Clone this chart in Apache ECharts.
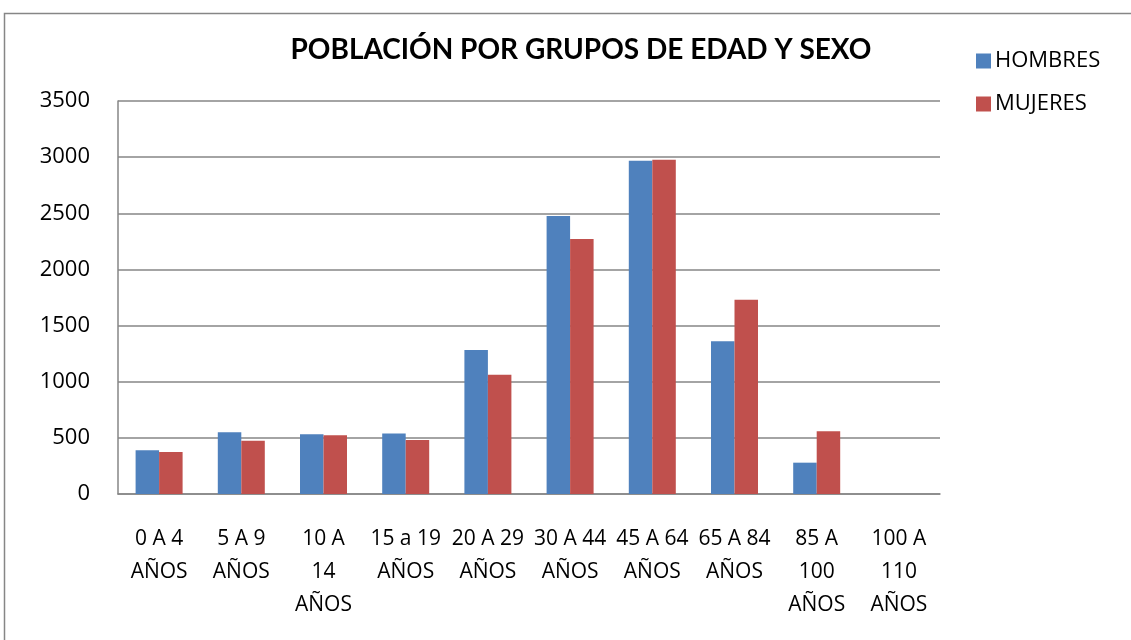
<!DOCTYPE html>
<html lang="es">
<head>
    <meta charset="UTF-8">
    <title>Población por grupos de edad y sexo</title>
    <script src="https://cdn.jsdelivr.net/npm/echarts@6/dist/echarts.min.js"></script>
</head>
<style>
    *{
        margin: 0px;
    }
    #main{
        width: 1131px;
        height: 640px;
    }
</style>
<body>
<div id="main"></div>
<script type="text/javascript">
    // grupos de edad (etiquetas con salto de línea como en el original)
    var grupos = ["0 A 4\nAÑOS", "5 A 9\nAÑOS", "10 A\n14\nAÑOS", "15 a 19\nAÑOS", "20 A 29\nAÑOS",
        "30 A 44\nAÑOS", "45 A 64\nAÑOS", "65 A 84\nAÑOS", "85 A\n100\nAÑOS", "100 A\n110\nAÑOS"];
    var hombres = [389, 550, 532, 538, 1283, 2475, 2968, 1361, 279, 0];
    var mujeres = [374, 475, 523, 481, 1063, 2270, 2977, 1729, 559, 0];
    var ticksY = [0, 500, 1000, 1500, 2000, 2500, 3000, 3500];

    var myChart = echarts.init(document.getElementById('main'));
    var option = {
        animation: false,
        backgroundColor: '#fff',
        textStyle: { fontFamily: 'Open Sans' },
        graphic: [{
            type: 'rect',
            shape: { x: 4.5, y: 13.5, width: 1200, height: 700 },
            style: { fill: 'none', stroke: '#868686', lineWidth: 1.5 },
            silent: true
        }],
        title: {
            text: 'POBLACIÓN POR GRUPOS DE EDAD Y SEXO',
            left: 576,
            top: 31,
            textAlign: 'center',
            textStyle: { fontFamily: 'Lato', fontWeight: 'bold', fontSize: 28, color: '#000' }
        },
        legend: {
            orient: 'vertical',
            left: 971,
            top: 45,
            itemWidth: 15,
            itemHeight: 15,
            itemGap: 21,
            icon: 'rect',
            textStyle: { fontSize: 22, color: '#000', padding: [0, 0, 0, -1] },
            data: ['HOMBRES', 'MUJERES']
        },
        grid: {
            left: 118,
            right: 191,
            top: 101,
            bottom: 146
        },
        xAxis: {
            type: 'category',
            data: grupos,
            axisLine: { lineStyle: { color: '#868686', width: 1.5 } },
            axisTick: { show: false },
            axisLabel: {
                interval: 0,
                color: '#000',
                fontSize: 21,
                lineHeight: 33,
                margin: 29,
                verticalAlign: 'top'
            }
        },
        yAxis: {
            type: 'value',
            min: 0,
            max: 3500,
            interval: 500,
            axisLine: { show: true, lineStyle: { color: '#868686', width: 1.5 } },
            axisTick: { show: false },
            splitLine: { lineStyle: { color: '#868686', width: 1.5 } },
            axisLabel: {
                color: '#000',
                fontSize: 22,
                margin: 28,
                formatter: function (v) { return ticksY.indexOf(v) >= 0 ? String(v) : ''; }
            }
        },
        series: [{
            name: 'HOMBRES',
            type: 'bar',
            data: hombres,
            barWidth: 23.5,
            barGap: '0%',
            itemStyle: { color: '#4f81bd' }
        }, {
            name: 'MUJERES',
            type: 'bar',
            data: mujeres,
            barWidth: 23.5,
            barGap: '0%',
            itemStyle: { color: '#c0504d' }
        }]
    };
    myChart.setOption(option);
</script>
</body>
</html>
